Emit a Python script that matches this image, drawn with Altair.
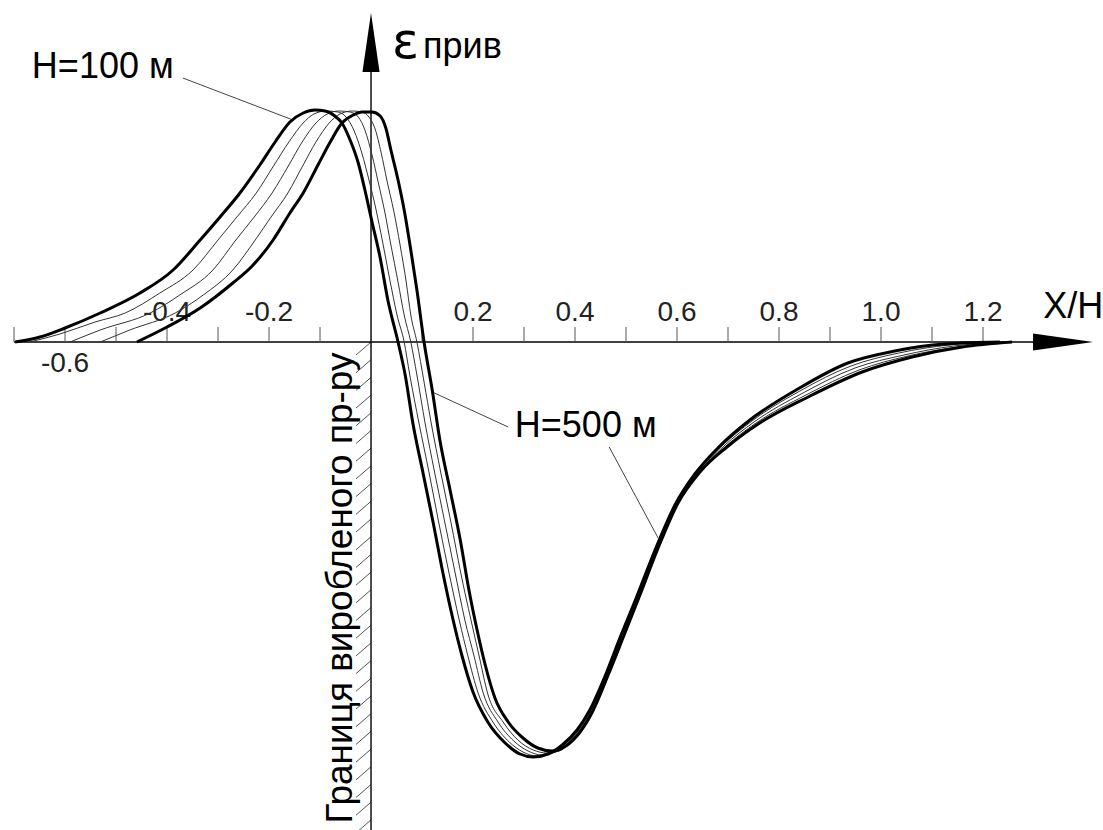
import altair as alt
import pandas as pd

# ---- curve data: X/H and relative strain (arbitrary units), H = 100 ... 500 m ----
c1_x = [-0.698, -0.649, -0.600, -0.531, -0.453, -0.388, -0.335, -0.296, -0.257, -0.218, -0.188, -0.159,
        -0.133, -0.110, -0.090, -0.071, -0.057, -0.041, -0.025, -0.012, 0.002, 0.018, 0.033, 0.053,
        0.067, 0.082, 0.102, 0.122, 0.141, 0.161, 0.178, 0.200, 0.229, 0.263, 0.292, 0.318, 0.347,
        0.375, 0.404, 0.429, 0.459, 0.488, 0.520, 0.557, 0.596, 0.635, 0.684, 0.743, 0.837, 0.935,
        1.027, 1.125, 1.233]
c1_y = [0.00, 0.05, 0.14, 0.29, 0.49, 0.72, 1.02, 1.25, 1.49, 1.77, 2.00, 2.20,
        2.29, 2.32, 2.31, 2.26, 2.19, 2.02, 1.79, 1.52, 1.20, 0.84, 0.42, 0.00,
        -0.33, -0.81, -1.31, -1.81, -2.31, -2.78, -3.13, -3.50, -3.80, -4.01, -4.12, -4.15, -4.12,
        -4.03, -3.88, -3.68, -3.34, -2.96, -2.56, -2.08, -1.63, -1.32, -1.04, -0.78, -0.47, -0.21,
        -0.09, -0.02, 0.00]

c2_x = [-0.669, -0.610, -0.541, -0.482, -0.414, -0.349, -0.300, -0.263, -0.225, -0.190, -0.161, -0.133,
        -0.112, -0.088, -0.065, -0.049, -0.033, -0.018, -0.004, 0.010, 0.022, 0.037, 0.051, 0.065,
        0.076, 0.094, 0.114, 0.133, 0.153, 0.173, 0.190, 0.210, 0.239, 0.271, 0.298, 0.325, 0.353,
        0.378, 0.406, 0.431, 0.461, 0.490, 0.522, 0.559, 0.598, 0.639, 0.688, 0.747, 0.841, 0.941,
        1.035, 1.133, 1.239]
c2_y = [0.00, 0.08, 0.20, 0.29, 0.49, 0.72, 1.02, 1.25, 1.49, 1.77, 2.00, 2.19,
        2.28, 2.31, 2.30, 2.25, 2.11, 1.89, 1.62, 1.32, 1.02, 0.62, 0.27, 0.00,
        -0.33, -0.81, -1.31, -1.81, -2.31, -2.78, -3.14, -3.51, -3.80, -4.00, -4.10, -4.14, -4.11,
        -4.03, -3.89, -3.69, -3.34, -2.96, -2.56, -2.08, -1.62, -1.31, -1.04, -0.79, -0.49, -0.24,
        -0.11, -0.03, 0.00]

c3_x = [-0.590, -0.531, -0.433, -0.375, -0.310, -0.265, -0.229, -0.194, -0.161, -0.135, -0.108,
        -0.086, -0.063, -0.041, -0.025, -0.012, 0.002, 0.014, 0.027, 0.039, 0.053, 0.065, 0.078,
        0.090, 0.106, 0.125, 0.145, 0.165, 0.184, 0.202, 0.220, 0.249, 0.280, 0.308, 0.335, 0.361,
        0.382, 0.408, 0.433, 0.463, 0.492, 0.524, 0.561, 0.600, 0.641, 0.692, 0.751, 0.847, 0.949,
        1.045, 1.143, 1.245]
c3_y = [0.00, 0.12, 0.29, 0.47, 0.72, 1.02, 1.25, 1.49, 1.77, 2.00, 2.19,
        2.28, 2.31, 2.30, 2.25, 2.12, 1.87, 1.60, 1.30, 0.97, 0.60, 0.27, 0.00,
        -0.33, -0.81, -1.31, -1.81, -2.31, -2.78, -3.14, -3.51, -3.80, -3.99, -4.09, -4.13, -4.10,
        -4.03, -3.89, -3.69, -3.34, -2.96, -2.56, -2.07, -1.62, -1.31, -1.04, -0.80, -0.51, -0.26,
        -0.13, -0.04, 0.00]

c4_x = [-0.531, -0.473, -0.384, -0.329, -0.271, -0.227, -0.196, -0.163, -0.133, -0.108, -0.082,
        -0.061, -0.037, -0.018, -0.004, 0.008, 0.020, 0.031, 0.045, 0.057, 0.069, 0.078, 0.090,
        0.104, 0.118, 0.137, 0.157, 0.176, 0.196, 0.212, 0.229, 0.259, 0.288, 0.318, 0.345, 0.369,
        0.386, 0.410, 0.435, 0.465, 0.494, 0.525, 0.563, 0.602, 0.643, 0.696, 0.755, 0.853, 0.957,
        1.053, 1.151, 1.251]
c4_y = [0.00, 0.12, 0.29, 0.47, 0.72, 1.02, 1.25, 1.49, 1.77, 2.00, 2.19,
        2.28, 2.31, 2.30, 2.25, 2.13, 1.89, 1.62, 1.30, 0.97, 0.60, 0.27, 0.00,
        -0.40, -0.81, -1.31, -1.81, -2.31, -2.78, -3.14, -3.52, -3.80, -3.98, -4.08, -4.11, -4.09,
        -4.03, -3.89, -3.69, -3.34, -2.96, -2.56, -2.07, -1.61, -1.30, -1.04, -0.81, -0.53, -0.28,
        -0.14, -0.05, 0.00]

c5_x = [-0.459, -0.400, -0.335, -0.271, -0.233, -0.192, -0.159, -0.133, -0.104, -0.080, -0.057,
        -0.035, -0.018, 0.002, 0.018, 0.029, 0.039, 0.053, 0.065, 0.078, 0.090, 0.104,
        0.120, 0.135, 0.155, 0.175, 0.192, 0.208, 0.224, 0.243, 0.269, 0.298, 0.327, 0.355, 0.382,
        0.410, 0.435, 0.465, 0.494, 0.525, 0.563, 0.602, 0.645, 0.698, 0.759, 0.857, 0.963, 1.061,
        1.159, 1.257]
c5_y = [0.00, 0.15, 0.34, 0.59, 0.76, 1.02, 1.29, 1.49, 1.77, 2.00, 2.19,
        2.27, 2.30, 2.30, 2.26, 2.14, 1.92, 1.62, 1.32, 0.92, 0.52, 0.00,
        -0.48, -0.98, -1.48, -1.98, -2.48, -2.88, -3.23, -3.56, -3.80, -3.96, -4.06, -4.09, -4.04,
        -3.90, -3.69, -3.33, -2.96, -2.56, -2.06, -1.61, -1.30, -1.05, -0.82, -0.55, -0.30, -0.15,
        -0.05, 0.00]

thick_curves = {"H=100": (c1_x, c1_y), "H=500": (c5_x, c5_y)}
thin_curves = {"H=200": (c2_x, c2_y), "H=300": (c3_x, c3_y), "H=400": (c4_x, c4_y)}

# ---- axis / annotation data ----
tick_values = [-0.7, -0.6, -0.5, -0.4, -0.3, -0.2, -0.1, 0.1, 0.2, 0.3, 0.4, 0.5, 0.6, 0.7,
               0.8, 0.9, 1.0, 1.1, 1.2]
label_above = ["-0.4", "-0.2", "0.2", "0.4", "0.6", "0.8", "1.0", "1.2"]
label_below = ["-0.6"]

X_MIN, X_MAX = -0.7275, 1.4353
Y_MIN, Y_MAX = -4.88, 3.42
FONT = "Liberation Sans"


def frame(curves):
    rows = []
    for name, (xs, ys) in curves.items():
        for i, (x, y) in enumerate(zip(xs, ys)):
            rows.append({"curve": name, "i": i, "x": x, "y": y})
    return pd.DataFrame(rows)


xs = alt.Scale(domain=[X_MIN, X_MAX], nice=False, zero=False)
ys = alt.Scale(domain=[Y_MIN, Y_MAX], nice=False, zero=False)
X = lambda f="x": alt.X(f"{f}:Q", scale=xs, axis=None)
Y = lambda f="y": alt.Y(f"{f}:Q", scale=ys, axis=None)

thin = alt.Chart(frame(thin_curves)).mark_line(
    color="#333", strokeWidth=1, interpolate="monotone").encode(
    x=X(), y=Y(), detail="curve:N", order="i:Q")
thick = alt.Chart(frame(thick_curves)).mark_line(
    color="black", strokeWidth=3, interpolate="monotone").encode(
    x=X(), y=Y(), detail="curve:N", order="i:Q")

# axes
axes_df = pd.DataFrame({"x": [-0.7, 0.0], "y": [0.0, Y_MIN], "x2": [1.36, 0.0], "y2": [0.0, 2.95]})
axes = alt.Chart(axes_df).mark_rule(color="black", strokeWidth=1.4).encode(
    x=X(), y=Y(), x2="x2:Q", y2="y2:Q")

ticks_df = pd.DataFrame({"x": tick_values, "y": [0.0] * len(tick_values),
                         "y2": [0.15] * len(tick_values)})
ticks = alt.Chart(ticks_df).mark_rule(color="#555", strokeWidth=1).encode(
    x=X(), y=Y(), y2="y2:Q")

lab_a = pd.DataFrame({"t": label_above, "x": [float(s) for s in label_above], "y": [0.21] * len(label_above)})
lab_b = pd.DataFrame({"t": label_below, "x": [float(s) for s in label_below], "y": [-0.30]})
tick_labels = alt.Chart(pd.concat([lab_a, lab_b])).mark_text(
    font=FONT, fontSize=28, color="#222", align="center", baseline="alphabetic").encode(
    x=X(), y=Y(), text="t:N")

# arrows
arrow_up = alt.Chart(pd.DataFrame({"x": [0.0], "y": [2.995]})).mark_point(
    shape="M0,-1L0.29,1L-0.29,1Z", size=3481, filled=True, color="black", opacity=1).encode(x=X(), y=Y())
arrow_right = alt.Chart(pd.DataFrame({"x": [1.357], "y": [0.0]})).mark_point(
    shape="M1,0L-1,-0.283L-1,0.283Z", size=3600, filled=True, color="black", opacity=1).encode(x=X(), y=Y())

# hatching of the mined-out boundary
h0 = [-0.177 * i for i in range(28)]
hatch_df = pd.DataFrame({"x": [0.0] * len(h0), "y": h0, "x2": [-0.0294] * len(h0),
                         "y2": [v - 0.13 for v in h0]})
hatch = alt.Chart(hatch_df).mark_rule(color="#555", strokeWidth=1).encode(
    x=X(), y=Y(), x2="x2:Q", y2="y2:Q")

# leader lines
lead_df = pd.DataFrame({"x": [-0.369, 0.120, 0.467], "y": [2.64, -0.50, -1.05],
                        "x2": [-0.153, 0.269, 0.563], "y2": [2.22, -0.85, -1.96]})
leaders = alt.Chart(lead_df).mark_rule(color="#444", strokeWidth=1).encode(
    x=X(), y=Y(), x2="x2:Q", y2="y2:Q")

# texts
txt_df = pd.DataFrame({"t": ["H=100 м", "H=500 м", "X/H", "прив"],
                       "x": [-0.665, 0.282, 1.318, 0.102],
                       "y": [2.64, -0.95, 0.24, 2.84]})
texts = alt.Chart(txt_df).mark_text(font=FONT, fontSize=36, color="black", align="left",
                                    baseline="alphabetic").encode(x=X(), y=Y(), text="t:N")
eps = alt.Chart(pd.DataFrame({"t": ["ε"], "x": [0.041], "y": [2.84]})).mark_text(
    font="DejaVu Sans", fontSize=50, color="black", align="left", baseline="alphabetic").encode(
    x=X(), y=Y(), text="t:N")
boundary = alt.Chart(pd.DataFrame({"t": ["Границя виробленого пр-ру"], "x": [-0.037], "y": [-2.46]})).mark_text(
    font=FONT, fontSize=37, color="black", angle=270, align="center", baseline="alphabetic").encode(
    x=X(), y=Y(), text="t:N")

chart = alt.layer(hatch, axes, ticks, tick_labels, leaders, thin, thick, arrow_up, arrow_right,
                  texts, eps, boundary).properties(
    width=1103, height=830, padding=0, autosize=alt.AutoSizeParams(type="none"),
    background="white").configure_view(strokeWidth=0)

chart.save("out.html", embed_options={"renderer": "svg", "actions": False})
